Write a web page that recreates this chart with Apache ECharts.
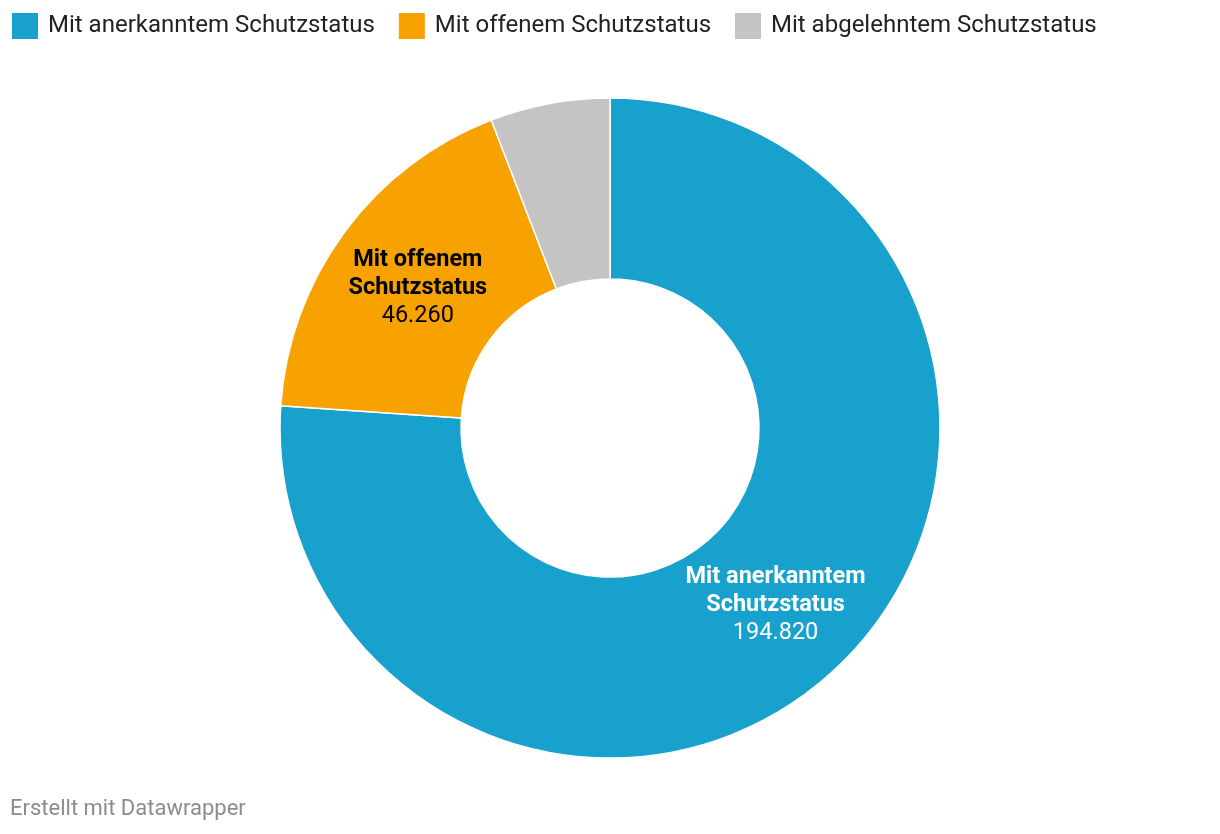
<!DOCTYPE html>
<html>
<head>
<meta charset="utf-8">
<script src="https://cdn.jsdelivr.net/npm/echarts@6/dist/echarts.min.js"></script>
<style>
html,body{margin:0;padding:0;background:#fff;}
#chart{width:1220px;height:834px;}
</style>
</head>
<body>
<div id="chart"></div>
<script>
const categories = ['Mit anerkanntem Schutzstatus', 'Mit offenem Schutzstatus', 'Mit abgelehntem Schutzstatus'];
const labelNames = ['Mit anerkanntem\nSchutzstatus', 'Mit offenem\nSchutzstatus', ''];
const values = [194820, 46260, 15000];
const valueLabels = ['194.820', '46.260', ''];
const colors = ['#19a1cd', '#f7a200', '#c4c4c4'];
const labelColors = ['#ffffff', '#000000', '#000000'];
const showLabels = [true, true, false];
const labelPads = [[0, 0, 0, 0], [8, 0, 0, 6], [0, 0, 0, 0]];

const chart = echarts.init(document.getElementById('chart'), null, {renderer: 'canvas'});
const data = categories.map((c, i) => ({
  name: c,
  value: values[i],
  itemStyle: {color: colors[i]},
  label: {
    show: showLabels[i],
    color: labelColors[i],
    padding: labelPads[i],
    formatter: () => '{b|' + labelNames[i].split('\n').join('}\n{b|') + '}\n{v|' + valueLabels[i] + '}',
    rich: {
      b: {fontFamily: 'Roboto', fontWeight: 'bold', fontSize: 23.5, lineHeight: 28, color: labelColors[i]},
      v: {fontFamily: 'Roboto', fontWeight: 'normal', fontSize: 23.5, lineHeight: 28, color: labelColors[i]}
    }
  }
}));

chart.setOption({
  animation: false,
  legend: {
    left: 10,
    top: 11,
    padding: 0,
    itemWidth: 28,
    itemHeight: 28,
    itemGap: 22,
    icon: 'rect',
    data: categories,
    textStyle: {fontFamily: 'Roboto', fontSize: 24, color: '#222', padding: [0, 0, 0, 4]}
  },
  graphic: [{
    type: 'text',
    left: 10,
    top: 798,
    style: {text: 'Erstellt mit Datawrapper', font: '22px Roboto', fill: '#8c8c8c'}
  }],
  series: [{
    type: 'pie',
    center: [610, 428],
    radius: [149, 330],
    startAngle: 90,
    clockwise: true,
    avoidLabelOverlap: false,
    label: {position: 'inside'},
    labelLine: {show: false},
    emphasis: {disabled: true},
    itemStyle: {borderColor: '#ffffff', borderWidth: 1.5},
    data: data
  }]
});
</script>
</body>
</html>
